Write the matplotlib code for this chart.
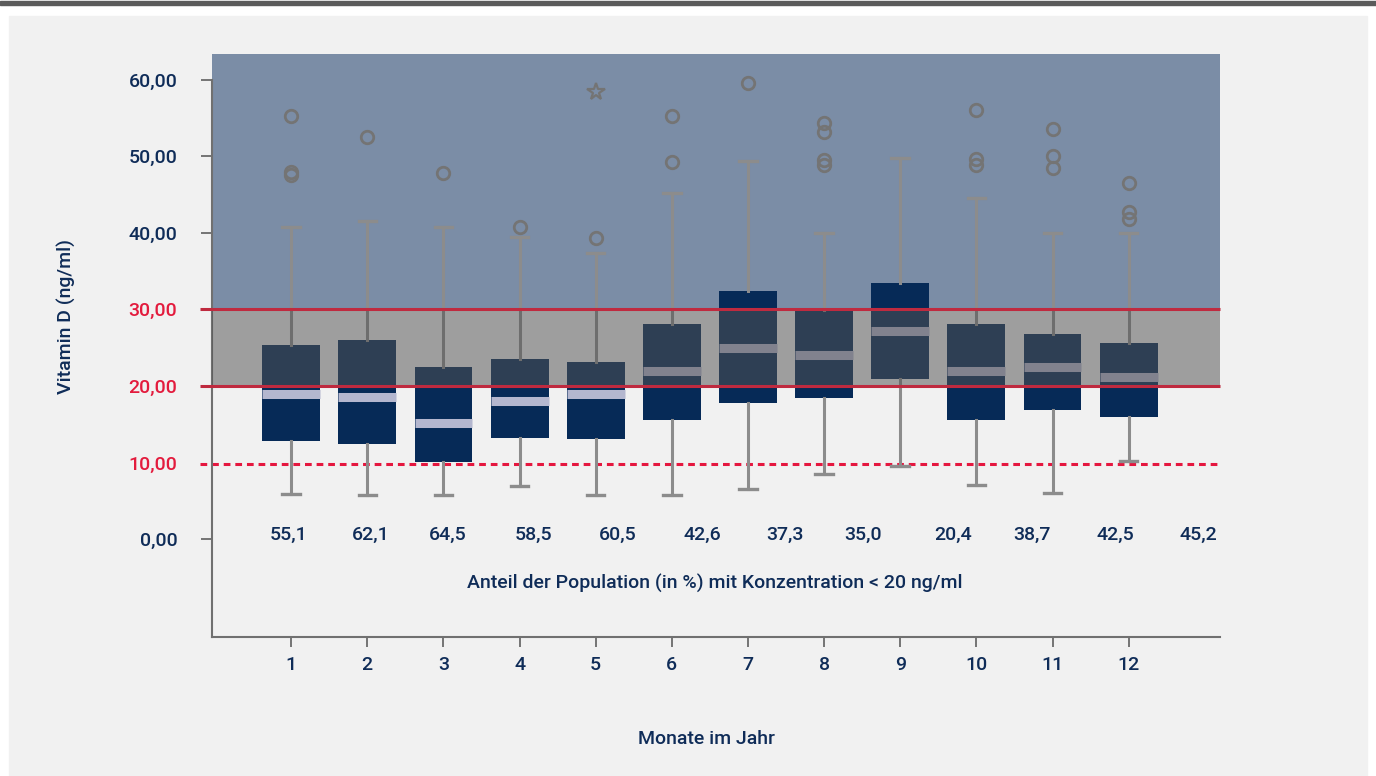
import matplotlib
matplotlib.use("Agg")
import matplotlib.pyplot as plt
from matplotlib.patches import Rectangle

# Daten: Vitamin-D-Konzentration je Monat (ng/ml)
months = list(range(1, 13))
q1 = [12.8, 12.4, 10.0, 13.2, 13.1, 15.5, 17.8, 18.4, 20.9, 15.5, 16.8, 16.0]
med = [19.0, 18.6, 15.1, 18.0, 19.0, 21.9, 25.0, 24.0, 27.2, 21.9, 22.5, 21.2]
q3 = [25.3, 26.0, 22.5, 23.5, 23.1, 28.1, 32.4, 29.9, 33.4, 28.1, 26.8, 25.6]
whislo = [5.9, 5.8, 5.8, 6.9, 5.8, 5.8, 6.5, 8.5, 9.6, 7.1, 6.0, 10.2]
whishi = [40.8, 41.5, 40.7, 39.4, 37.4, 45.2, 49.4, 40.0, 49.8, 44.6, 40.0, 40.0]
fliers = [[55.3, 48.0, 47.5], [52.5], [47.8], [40.7], [39.3], [55.3, 49.2],
          [59.6], [54.3, 53.2, 49.5, 48.9], [], [56.0, 49.6, 48.9],
          [53.5, 50.0, 48.5], [46.5, 42.7, 41.8]]
extreme_month = [5]
extreme_val = [58.4]

# Anteil der Population (%) mit < 20 ng/ml
anteil = ["55,1", "62,1", "64,5", "58,5", "60,5", "42,6", "37,3", "35,0",
          "20,4", "38,7", "42,5", "45,2"]
anteil_pos = [0.97, 2.04, 3.05, 4.18, 5.29, 6.40, 7.49, 8.51, 9.69, 10.73, 11.82, 12.92]

yticks = [0, 10, 20, 30, 40, 50, 60]
ytick_labels = ["0,00", "10,00", "20,00", "30,00", "40,00", "50,00", "60,00"]

navy = "#0f2c58"
red_txt = "#e31b3d"
box_col = "#062a57"
med_col = "#b4b7cf"
whisk_col = "#8c8c8c"
fs = 14

plt.rcParams["font.family"] = ["Roboto", "DejaVu Sans"]

fig = plt.figure(figsize=(13.76, 7.76), dpi=100, facecolor="white")
# Rahmen oben und grauer Hintergrund
fig.patches.append(Rectangle((0, 1 - 4.5 / 776), 1, 3.5 / 776, transform=fig.transFigure,
                             color="#5b5b5b", zorder=-10))
fig.patches.append(Rectangle((9 / 1376, 0), 1358 / 1376, 760 / 776, transform=fig.transFigure,
                             color="#f1f1f1", zorder=-10))

ax = fig.add_axes([212 / 1376, 1 - 637 / 776, 1008 / 1376, 583 / 776])
ax.set_facecolor("#f1f1f1")
ax.set_xlim(-0.04, 13.2)
ax.set_ylim(-12.8, 63.35)

# Bereiche
ax.axhspan(30, 63.35, color="#7b8da6", zorder=0, lw=0)

stats = []
for i in range(len(months)):
    stats.append(dict(med=med[i], q1=q1[i], q3=q3[i], whislo=whislo[i],
                      whishi=whishi[i], fliers=fliers[i]))

ax.bxp(stats, positions=months, widths=0.76, patch_artist=True, capwidths=0.23,
       boxprops=dict(facecolor=box_col, edgecolor="none", linewidth=0),
       medianprops=dict(color=med_col, linewidth=6.5, solid_capstyle="butt"),
       whiskerprops=dict(color=whisk_col, linewidth=2.2),
       capprops=dict(color=whisk_col, linewidth=2.4),
       flierprops=dict(marker="o", markerfacecolor="none", markeredgecolor="#747474",
                       markersize=9, markeredgewidth=2),
       zorder=2)
ax.plot(extreme_month, extreme_val, linestyle="none", marker="*", markersize=13,
        markerfacecolor="none", markeredgecolor="#747474", markeredgewidth=1.6, zorder=3)

# halbtransparenter grauer Bereich 20-30 über den Boxen
ax.axhspan(20, 30, color=(83 / 255, 83 / 255, 83 / 255), alpha=0.52, lw=0, zorder=4)

ytr = ax.get_yaxis_transform()
for yv in [20, 30]:
    ax.plot([-0.012, 1], [yv, yv], color="#bf2a3f", lw=2.2, transform=ytr,
            clip_on=False, zorder=5, solid_capstyle="butt")
ax.plot([-0.012, 1], [9.8, 9.8], color="#e5173f", lw=2.2, dashes=(2.2, 1.6),
        transform=ytr, clip_on=False, zorder=1)

# Achsen
for s in ["top", "right"]:
    ax.spines[s].set_visible(False)
for s in ["left", "bottom"]:
    ax.spines[s].set_color("#707070")
    ax.spines[s].set_linewidth(1.5)
ax.spines["left"].set_bounds(-12.8, 60)

ax.set_yticks(yticks)
ax.set_yticklabels(ytick_labels, fontsize=fs, fontweight="medium")
ax.tick_params(axis="y", length=8, width=1.3, color="#6a6a6a", pad=17)
for t, lab, yv in zip(ax.yaxis.get_major_ticks(), ax.get_yticklabels(), yticks):
    if yv in (10, 20, 30):
        lab.set_color(red_txt)
        t.tick1line.set_visible(False)
    else:
        lab.set_color(navy)

ax.set_xticks(months)
ax.set_xticklabels([str(m) for m in months], fontsize=fs, fontweight="medium", color=navy)
ax.tick_params(axis="x", length=7.5, width=1.3, color="#6a6a6a", pad=6)

for p, lab in zip(anteil_pos, anteil):
    ax.text(p, 0.5, lab, ha="center", va="center", fontsize=fs,
            fontweight="medium", color=navy)
ax.text(6.57, -5.75, "Anteil der Population (in %) mit Konzentration < 20 ng/ml",
        ha="center", va="center", fontsize=fs, fontweight="medium", color=navy)

ax.set_ylabel("Vitamin D (ng/ml)", fontsize=fs, fontweight="medium", color=navy)
ax.yaxis.set_label_coords(-0.135, 0.55)
ax.set_xlabel("Monate im Jahr", fontsize=fs, fontweight="medium", color=navy)
ax.xaxis.set_label_coords(0.491, -0.16)

fig.savefig("out.png", dpi=100, facecolor=fig.get_facecolor())
